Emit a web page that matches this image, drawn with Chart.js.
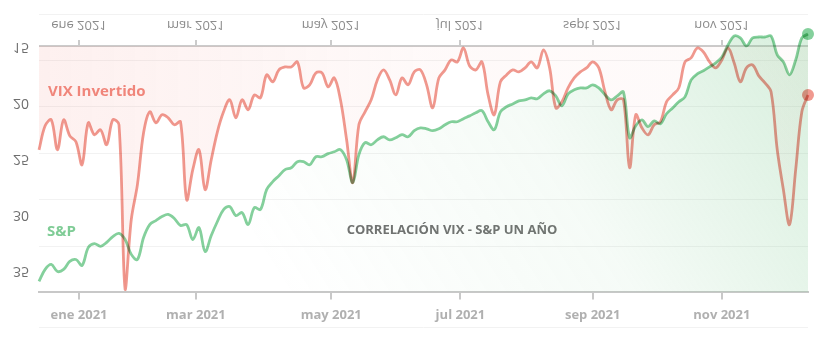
<!DOCTYPE html>
<html>
<head>
<meta charset="utf-8">
<script src="https://cdn.jsdelivr.net/npm/chart.js@4.4.1/dist/chart.umd.min.js"></script>
<style>
  html, body { margin: 0; padding: 0; background: #fff; }
</style>
</head>
<body>
<canvas id="vixChart" width="827" height="352"></canvas>
<script>
// trading day index (one point every 2 sessions, mid Dec 2020 -> Dec 2021)
const tradingDay = [0,2,4,6,8,10,12,14,16,18,20,22,24,26,28,30,32,34,36,38,40,42,44,46,48,50,52,54,56,58,
  60,62,64,66,68,70,72,74,76,78,80,82,84,86,88,90,92,94,96,98,100,102,104,106,108,110,112,114,116,118,
  120,122,124,126,128,130,132,134,136,138,140,142,144,146,148,150,152,154,156,158,160,162,164,166,168,170,
  172,174,176,178,180,182,184,186,188,190,192,194,196,198,200,202,204,206,208,210,212,214,216,218,220,222,
  224,226,228,230,232,234,236,238,240,242,244,246,248,250];

// month ticks (trading day of the 1st session of each month)
const monthTicks = [13, 51, 95, 137, 180, 222];
const monthLabelsBottom = ["ene 2021", "mar 2021", "may 2021", "jul 2021", "sep 2021", "nov 2021"];
const monthLabelsTop = ["ene 2021", "mar 2021", "may 2021", "jul 2021", "sept 2021", "nov 2021"];
const vixTicks = [15, 20, 25, 30, 35];

const vix = [24.29,22.14,21.61,24.29,21.61,23.04,23.57,25.63,21.88,22.95,22.5,23.84,21.61,22.05,36.79,30.54,
  27.41,22.77,20.89,21.88,21.16,21.43,22.05,21.79,28.75,26.07,24.29,27.86,25.18,22.68,20.89,19.82,21.43,19.82,
  20.71,19.38,19.64,17.59,18.21,17.14,16.88,16.88,16.43,18.75,18.48,17.41,17.41,18.66,17.86,19.82,23.39,27.23,
  22.05,20.89,19.82,18.04,17.14,18.04,19.38,17.86,18.48,17.32,17.14,18.48,20.54,17.86,17.14,16.25,16.43,15.18,
  16.79,17.14,16.43,19.38,21.16,18.21,17.59,17.14,17.32,16.96,16.43,16.96,15.36,16.96,20.54,20.0,18.75,17.86,
  17.32,16.96,16.43,16.96,19.11,20.71,19.82,19.82,25.89,21.16,22.32,22.95,22.05,21.79,20.0,19.38,18.75,16.43,
  16.07,15.18,15.54,16.43,16.96,16.25,15.18,16.52,18.21,16.96,16.7,17.68,18.3,19.11,24.29,27.86,30.98,26.07,
  20.89,19.38];

const sp500 = [3647,3698,3719,3689,3698,3732,3740,3715,3791,3808,3796,3813,3838,3851,3825,3762,3740,3834,3889,
  3906,3923,3932,3915,3885,3889,3825,3876,3774,3842,3902,3953,3966,3927,3940,3889,3961,3953,4038,4072,4097,
  4123,4131,4157,4157,4144,4178,4178,4191,4199,4208,4165,4068,4187,4238,4229,4250,4263,4250,4259,4272,4263,
  4289,4301,4297,4289,4297,4314,4327,4327,4340,4352,4365,4374,4327,4293,4369,4391,4403,4416,4420,4429,4425,
  4446,4459,4437,4395,4446,4463,4471,4471,4484,4471,4442,4420,4437,4454,4259,4310,4335,4306,4331,4318,4361,
  4386,4412,4433,4505,4531,4544,4561,4578,4603,4654,4692,4684,4650,4684,4688,4688,4692,4612,4582,4527,4590,
  4684,4701];

const red = "#f0998f";
const green = "#84d09c";

function lastPoint(ctx) {
  return ctx.dataIndex === ctx.dataset.data.length - 1 ? 6 : 0;
}

function vixFill(ctx) {
  const area = ctx.chart.chartArea;
  if (!area) return "rgba(0,0,0,0)";
  const g = ctx.chart.ctx.createLinearGradient(area.left, 0, area.right, 0);
  g.addColorStop(0, "rgba(240,120,110,0.11)");
  g.addColorStop(0.5, "rgba(240,120,110,0.04)");
  g.addColorStop(1, "rgba(240,120,110,0.03)");
  return g;
}

function spFill(ctx) {
  const area = ctx.chart.chartArea;
  if (!area) return "rgba(0,0,0,0)";
  const w = area.right - area.left;
  const g = ctx.chart.ctx.createLinearGradient(area.left + w * 0.35, area.bottom + 40, area.right, area.top);
  g.addColorStop(0, "rgba(120,200,140,0)");
  g.addColorStop(0.5, "rgba(120,200,140,0.07)");
  g.addColorStop(1, "rgba(120,200,140,0.3)");
  return g;
}

// top axis, flipped labels, legend texts, overlap blending
const decor = {
  id: "decor",
  beforeDatasetsDraw(chart) {
    const { ctx, chartArea } = chart;
    const x = chart.scales.x;
    const v = chart.scales.vix;
    const top = Math.round(v.getPixelForValue(15));
    ctx.save();
    ctx.strokeStyle = "#f2f2f2";
    ctx.lineWidth = 1;
    ctx.beginPath();
    ctx.moveTo(chartArea.left, 327.5);
    ctx.lineTo(chartArea.right, 327.5);
    ctx.stroke();

    ctx.strokeStyle = "#cbcbcb";
    ctx.lineWidth = 2;
    ctx.beginPath();
    ctx.moveTo(chartArea.left, top);
    ctx.lineTo(chartArea.right, top);
    monthTicks.forEach((t) => {
      const px = Math.round(x.getPixelForValue(t));
      ctx.moveTo(px, top);
      ctx.lineTo(px, top - 6);
    });
    ctx.stroke();

    ctx.fillStyle = "#8c8c8c";
    ctx.font = '13px "Open Sans"';
    ctx.textAlign = "center";
    ctx.textBaseline = "middle";
    monthTicks.forEach((t, i) => {
      ctx.save();
      ctx.translate(x.getPixelForValue(t), 25);
      ctx.scale(1, -1);
      ctx.fillText(monthLabelsTop[i], 0, 0);
      ctx.restore();
    });

    ctx.fillStyle = "#6e6e6e";
    ctx.font = '14px "Open Sans"';
    ctx.textAlign = "right";
    vixTicks.forEach((t) => {
      ctx.save();
      ctx.translate(29, v.getPixelForValue(t) + 1);
      ctx.scale(1, -1);
      ctx.fillText(String(t), 0, 0);
      ctx.restore();
    });

    ctx.textAlign = "left";
    ctx.font = 'bold 15px "Open Sans"';
    ctx.fillStyle = "#f0877c";
    ctx.fillText("VIX Invertido", 48, 92);
    ctx.fillStyle = "#7fcc96";
    ctx.fillText("S&P", 47, 232);
    ctx.fillStyle = "#707070";
    ctx.font = 'bold 13px "Open Sans"';
    ctx.textAlign = "center";
    ctx.fillText("CORRELACIÓN VIX - S&P UN AÑO", 452, 230);
    ctx.restore();
  },
  beforeDatasetDraw(chart) {
    chart.ctx.save();
    chart.ctx.globalCompositeOperation = "multiply";
  },
  afterDatasetDraw(chart) {
    chart.ctx.restore();
  }
};

const vixCtx = document.getElementById("vixChart").getContext("2d");
const vixChart = new Chart(vixCtx, {
  type: "line",
  data: {
    labels: tradingDay,
    datasets: [
      {
        label: "VIX Invertido",
        data: vix,
        yAxisID: "vix",
        borderColor: red,
        backgroundColor: vixFill,
        pointBackgroundColor: red,
        pointBorderWidth: 0,
        pointRadius: lastPoint,
        borderWidth: 2.8,
        tension: 0.35,
        fill: { value: 15 },
        clip: 8,
      },
      {
        label: "S&P",
        data: sp500,
        yAxisID: "sp",
        borderColor: green,
        backgroundColor: spFill,
        pointBackgroundColor: green,
        pointBorderWidth: 0,
        pointRadius: lastPoint,
        borderWidth: 2.8,
        tension: 0.35,
        fill: "start",
        clip: 8,
      },
    ],
  },
  options: {
    responsive: false,
    animation: false,
    devicePixelRatio: 1,
    layout: { padding: { left: 39, right: 19, top: 14, bottom: 21 } },
    plugins: { legend: { display: false }, tooltip: { enabled: false } },
    scales: {
      x: {
        type: "linear",
        min: 0,
        max: 250,
        afterBuildTicks: (scale) => {
          scale.ticks = monthTicks.map((t) => ({ value: t }));
        },
        ticks: {
          callback: (value) => monthLabelsBottom[monthTicks.indexOf(value)],
          color: "#b0b0b0",
          font: { family: "Open Sans", size: 13, weight: "bold" },
          padding: 8,
          maxRotation: 0,
        },
        grid: { drawOnChartArea: false, color: "#c8c8c8", lineWidth: 2, tickLength: 7 },
        border: { color: "#c8c8c8", width: 2 },
      },
      vix: {
        type: "linear",
        reverse: true,
        min: 12.14,
        max: 37.05,
        display: false,
      },
      sp: {
        type: "linear",
        position: "right",
        min: 3600,
        max: 4786,
        ticks: { display: false, stepSize: 200 },
        grid: { color: "#f2f2f2", drawTicks: false, tickLength: 0 },
        border: { display: false },
      },
    },
  },
  plugins: [decor],
});
</script>
</body>
</html>
